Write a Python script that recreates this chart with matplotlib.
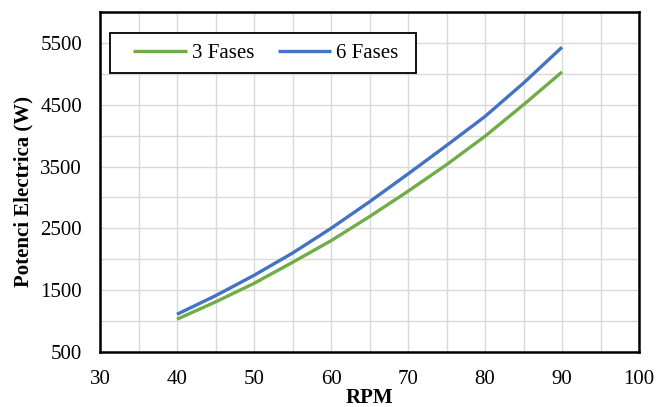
import matplotlib.pyplot as plt
from matplotlib.patches import Rectangle
from matplotlib.ticker import MultipleLocator

# values
rpm = [40, 45, 50, 55, 60, 65, 70, 75, 80, 85, 90]
p_3_fases = [1030, 1310, 1610, 1950, 2300, 2690, 3100, 3530, 3990, 4500, 5030]
p_6_fases = [1110, 1410, 1740, 2100, 2500, 2930, 3380, 3840, 4310, 4850, 5430]
x_ticks = [30, 40, 50, 60, 70, 80, 90, 100]
y_ticks = [500, 1500, 2500, 3500, 4500, 5500]

plt.rcParams["font.family"] = ["Liberation Serif", "DejaVu Serif"]

fig = plt.figure(figsize=(6.57, 4.07), dpi=100)
ax = fig.add_axes([100 / 657, 55 / 407, 539 / 657, 340 / 407])

ax.plot(rpm, p_3_fases, color="#70AD47", lw=2.4, label="3 Fases", solid_capstyle="butt")
ax.plot(rpm, p_6_fases, color="#4472C4", lw=2.4, label="6 Fases", solid_capstyle="butt")

ax.set_xlim(30, 100)
ax.set_ylim(500, 6000)
ax.set_xticks(x_ticks)
ax.set_yticks(y_ticks)
ax.xaxis.set_minor_locator(MultipleLocator(5))
ax.yaxis.set_minor_locator(MultipleLocator(500))

# light gray grid on both major and minor positions
ax.grid(True, which="both", color="#d9d9d9", lw=1.0)
ax.set_axisbelow(True)
ax.tick_params(which="both", length=0, labelsize=15)
ax.tick_params(axis="x", pad=13)
ax.tick_params(axis="y", pad=13)

for spine in ax.spines.values():
    spine.set_linewidth(1.8)
    spine.set_color("black")

ax.set_xlabel("RPM", fontsize=15, fontweight="bold", labelpad=-1)
ax.set_ylabel("Potenci Electrica (W)", fontsize=15, fontweight="bold")
ax.yaxis.set_label_coords(-0.124, 0.472)

# legend box drawn separately so the padding can be wider on the sides
ax.add_patch(Rectangle((0.0186, 0.8206), 0.5677, 0.1176, transform=ax.transAxes,
                       facecolor="white", edgecolor="black", lw=1.3, zorder=4))
leg = ax.legend(loc="center left", bbox_to_anchor=(0.0612, 0.879), borderaxespad=0,
                borderpad=0, ncol=2, fontsize=15, frameon=False,
                handlelength=2.57, handletextpad=0.24, columnspacing=1.14)
leg.set_zorder(5)

fig.savefig("out.png", dpi=100)
